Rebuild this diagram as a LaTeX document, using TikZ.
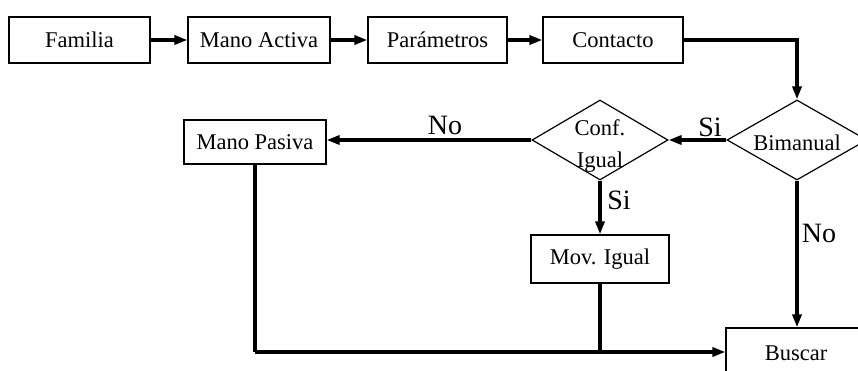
\documentclass[tikz,border=0pt]{standalone}
\usepackage{fontspec}
\setmainfont{Liberation Serif}
\usetikzlibrary{shapes.geometric,arrows.meta}
\newcommand{\zerotext}[2]{\makebox[0pt]{\smash{\raisebox{#1}{\begin{tabular}{@{}c@{}}#2\end{tabular}}}}}
\begin{document}
\begin{tikzpicture}[x=1pt,y=-1pt,
  box/.style={draw,line width=1.2pt,inner sep=0pt,font=\fontsize{22.5}{24}\selectfont},
  dia/.style={draw,diamond,line width=1.2pt,inner sep=0pt,minimum width=138pt,minimum height=80pt,font=\fontsize{22.5}{31}\selectfont},
  conn/.style={line width=3.2pt,-{Triangle[length=13pt,width=9pt]}},
  line/.style={line width=3.2pt},
  lab/.style={font=\fontsize{28}{30}\selectfont,inner sep=0pt}]
\useasboundingbox (0,0) rectangle (858,371);
\clip (0,0) rectangle (858,371);
\node[box,minimum width=141pt,minimum height=46pt] (fam) at (79.5,40) {Familia};
\node[box,minimum width=142pt,minimum height=46pt] (act) at (259,40) {Mano Activa};
\node[box,minimum width=139pt,minimum height=46pt] (par) at (437.5,40) {Parámetros};
\node[box,minimum width=140pt,minimum height=46pt] (con) at (613,40) {Contacto};
\node[dia,minimum width=140pt] (bim) at (797,140) {\zerotext{-9pt}{Bimanual}};
\node[dia,minimum width=136pt] (conf) at (600,140) {\zerotext{-10pt}{Conf.\\[1pt]Igual}};
\node[box,minimum width=142pt,minimum height=44pt] (pas) at (255,142) {Mano Pasiva};
\node[box,minimum width=138pt,minimum height=48pt] (mov) at (600,259) {Mov. Igual};
\node[box,minimum width=140pt,minimum height=50pt] (bus) at (796,353) {Buscar};
\coordinate (c1) at (797,40);
\coordinate (j1) at (255,352);
\coordinate (j2) at (600,352);
\draw[conn] (fam) -- (act);
\draw[conn] (act) -- (par);
\draw[conn] (par) -- (con);
\draw[conn] (con.east) -- (c1) -- (bim.north);
\draw[conn] (bim.west) -- (conf.east);
\draw[conn] (conf.west) -- (pas.east |- conf.west);
\draw[conn] (conf.south) -- (mov.north);
\draw[conn] (bim.south) -- (bus.north -| bim.south);
\draw[line] (pas.south) -- (j1);
\draw[conn] (j1) -- (bus.west |- j1);
\draw[line] (mov.south) -- (j2);
\node[lab] (si1) at (710,127) {Si};
\node[lab] (no1) at (445,125) {No};
\node[lab] (si2) at (619,200) {Si};
\node[lab] (no2) at (819,233) {No};
\end{tikzpicture}
\end{document}
